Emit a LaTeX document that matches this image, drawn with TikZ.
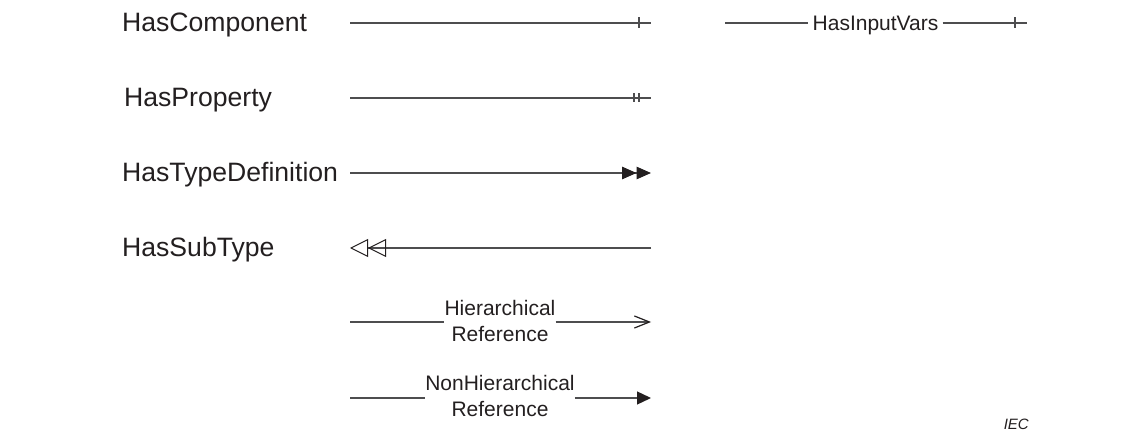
\documentclass[tikz,border=0pt]{standalone}
\usepackage{fontspec}
\setmainfont{Liberation Sans}
\usetikzlibrary{arrows.meta}
\definecolor{ink}{HTML}{231F20}
\definecolor{wire}{HTML}{4D4D4F}
\begin{document}
\begin{tikzpicture}[x=1pt,y=-1pt,
  reftype/.style={font=\fontsize{26.6}{31}\selectfont, text=ink, anchor=base west, inner sep=0pt},
  reflabel/.style={font=\fontsize{21}{26}\selectfont, text=ink, align=center, inner xsep=0pt, inner ysep=0pt},
  wireline/.style={draw=wire, line width=1.3pt},
  tickmark/.style={draw=wire, line width=1.2pt},
]
\useasboundingbox (0,0) rectangle (1146,435);

% reference type names
\node[reftype] (hc) at (122,31.5) {HasComponent};
\node[reftype] (hp) at (124,106.5) {HasProperty};
\node[reftype] (ht) at (122,181.5) {HasTypeDefinition};
\node[reftype] (hs) at (122,256.5) {HasSubType};

% HasComponent: plain line with one cross tick
\coordinate (hcA) at (350,23);
\coordinate (hcB) at (651,23);
\draw[wireline] (hcA) -- (hcB);
\draw[tickmark] ([shift={(-12,-5.5)}]hcB) -- ([shift={(-12,5.5)}]hcB);

% HasInputVars: labelled line with one cross tick
\coordinate (hiA) at (725,23);
\coordinate (hiB) at (1027,23);
\node[reflabel, inner xsep=4pt, anchor=base] (hi) at (875.5,30.5) {HasInputVars};
\draw[wireline] (hiA) -- (hiA -| hi.west);
\draw[wireline] (hi.east |- hiB) -- (hiB);
\draw[tickmark] ([shift={(-12,-5.5)}]hiB) -- ([shift={(-12,5.5)}]hiB);

% HasProperty: plain line with a double cross tick
\coordinate (hpA) at (350,98);
\coordinate (hpB) at (651,98);
\draw[wireline] (hpA) -- (hpB);
\draw[tickmark] ([shift={(-17,-4.5)}]hpB) -- ([shift={(-17,4.5)}]hpB);
\draw[tickmark] ([shift={(-12,-4.5)}]hpB) -- ([shift={(-12,4.5)}]hpB);

% HasTypeDefinition: double filled arrowhead
\coordinate (htA) at (350,173);
\coordinate (htB) at (651,173);
\draw[wireline, -{Triangle[length=14.5pt,width=12.5pt,color=ink]Triangle[length=14.5pt,width=12.5pt,color=ink]}] (htA) -- (htB);

% HasSubType: double open arrowhead pointing back
\coordinate (hsA) at (350,248);
\coordinate (hsB) at (651,248);
\draw[wireline, -{Triangle[open,length=18pt,width=18pt,color=ink,line width=1pt]Triangle[open,length=18pt,width=18pt,color=ink,line width=1pt]}] (hsB) -- (hsA);

% HierarchicalReference: open barb
\coordinate (hrA) at (350,322);
\coordinate (hrB) at (651,322);
\node[reflabel, anchor=base] (hr) at (500,342) {Hierarchical\\Reference};
\draw[wireline] (hrA) -- (hrA -| hr.west);
\draw[wireline, -{Straight Barb[length=15pt,width=12pt,color=ink,line width=1.2pt]}] (hr.east |- hrB) -- (hrB);

% NonHierarchicalReference: filled arrowhead
\coordinate (nrA) at (350,398);
\coordinate (nrB) at (651,398);
\node[reflabel, anchor=base] (nr) at (500,417) {NonHierarchical\\Reference};
\draw[wireline] (nrA) -- (nrA -| nr.west);
\draw[wireline, -{Triangle[length=14pt,width=13pt,color=ink]}] (nr.east |- nrB) -- (nrB);

% source mark
\node[font=\fontsize{15}{18}\selectfont\itshape, text=ink, anchor=base east, inner sep=0pt] (iec) at (1029,429) {IEC};
\end{tikzpicture}
\end{document}
